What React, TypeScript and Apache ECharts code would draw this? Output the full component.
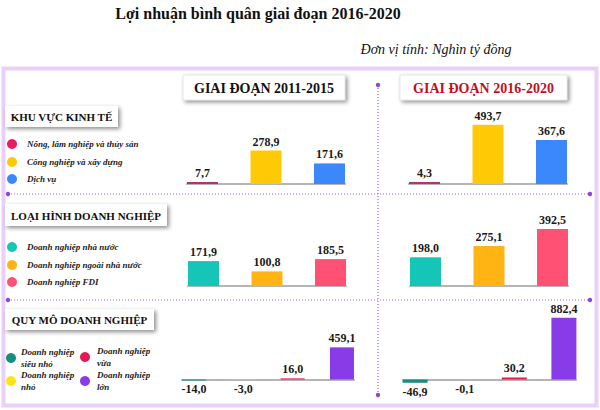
import React, { useEffect, useRef } from "react";
import * as echarts from "echarts";

const TITLE = "Lợi nhuận bình quân giai đoạn 2016-2020";
const UNIT = "Đơn vị tính: Nghìn tỷ đồng";
const PERIODS = ["GIAI ĐOẠN 2011-2015", "GIAI ĐOẠN 2016-2020"];
const SECTIONS = ["KHU VỰC KINH TẾ", "LOẠI HÌNH DOANH NGHIỆP", "QUY MÔ DOANH NGHIỆP"];

const sectorCats = ["Nông, lâm nghiệp và thủy sản", "Công nghiệp và xây dựng", "Dịch vụ"];
const sector2011 = [7.7, 278.9, 171.6];
const sector2016 = [4.3, 493.7, 367.6];
const sectorColors = ["#ec1a63", "#ffc905", "#3b88fd"];
const sectorBarColors = ["#b8306f", "#ffc905", "#3b88fd"];

const typeCats = ["Doanh nghiệp nhà nước", "Doanh nghiệp ngoài nhà nước", "Doanh nghiệp FDI"];
const type2011 = [171.9, 100.8, 185.5];
const type2016 = [198.0, 275.1, 392.5];
const typeColors = ["#15c6b8", "#ffb414", "#ff5173"];

const sizeCats = ["Doanh nghiệp\nsiêu nhỏ", "Doanh nghiệp\nnhỏ", "Doanh nghiệp\nvừa", "Doanh nghiệp\nlớn"];
const size2011 = [-14.0, -3.0, 16.0, 459.1];
const size2016 = [-46.9, -0.1, 30.2, 882.4];
const sizeColors = ["#168d7f", "#ffe31a", "#e6184f", "#8a3be8"];

const SERIF = "Liberation Serif";
const fmt = (v: number) => v.toFixed(1).replace(".", ",");

type Panel = {
  left: number; top: number; width: number; height: number;
  min: number; max: number; values: number[]; colors: string[];
  barWidth: number; minH: number;
};

const panels: Panel[] = [
  { left: 187, top: 112, width: 158, height: 72, min: 0, max: 600, values: sector2011, colors: sectorBarColors, barWidth: 31, minH: 2 },
  { left: 409, top: 112, width: 158, height: 72, min: 0, max: 600, values: sector2016, colors: sectorBarColors, barWidth: 31, minH: 2 },
  { left: 188, top: 228, width: 158, height: 58, min: 0, max: 400, values: type2011, colors: typeColors, barWidth: 31, minH: 0 },
  { left: 410, top: 228, width: 158, height: 58, min: 0, max: 400, values: type2016, colors: typeColors, barWidth: 31, minH: 0 },
  { left: 182, top: 309.5, width: 172, height: 77, min: -100, max: 1000, values: size2011, colors: sizeColors, barWidth: 24, minH: 0 },
  { left: 403, top: 309.5, width: 173, height: 77, min: -100, max: 1000, values: size2016, colors: sizeColors, barWidth: 25, minH: 0 },
];

function txt(x: number, y: number, text: string, o: any) {
  return {
    type: "text", x, y,
    style: {
      text, fill: o.fill || "#111", fontFamily: SERIF, fontSize: o.size,
      fontWeight: o.weight || "normal", fontStyle: o.style || "normal",
      textAlign: o.align || "center", textVerticalAlign: "middle",
      lineHeight: o.lineHeight,
    },
  };
}

function buildOption() {
  const grid = panels.map((p) => ({
    left: p.left, top: p.top, width: p.width, height: p.height,
    containLabel: false, outerBoundsMode: "none",
  }));
  const xAxis = panels.map((p, i) => ({
    type: "value", gridIndex: i, min: 0.756, max: p.values.length + 0.244,
    axisLine: { show: true, lineStyle: { color: "#b5b5b5", width: 2 } },
    axisTick: { show: false }, axisLabel: { show: false }, splitLine: { show: false },
  }));
  const yAxis = panels.map((p, i) => ({
    type: "value", gridIndex: i, min: p.min, max: p.max, show: false,
    splitLine: { show: false },
  }));
  const series = panels.map((p, i) => ({
    type: "bar", xAxisIndex: i, yAxisIndex: i, barWidth: p.barWidth,
    barMinHeight: p.minH, z: 3,
    data: p.values.map((v, k) => ({
      value: [k + 1, v],
      itemStyle: { color: p.colors[k] },
      label: { position: v < 0 ? "bottom" : "top" },
    })),
    label: {
      show: true, distance: 3,
      formatter: (d: any) => fmt(d.value[1]),
      fontFamily: SERIF, fontWeight: "bold", fontSize: 12, color: "#1a1a1a",
    },
  }));

  const g: any[] = [];
  const purple = "#9a62dc";
  g.push(txt(258, 13, TITLE, { size: 16, weight: "bold" }));
  g.push(txt(436, 49, UNIT, { size: 14, style: "italic" }));
  g.push({ type: "rect", shape: { x: 3.5, y: 68.5, width: 593, height: 337 }, style: { fill: "none", stroke: "#ead0f8", lineWidth: 4 } });
  g.push({ type: "line", shape: { x1: 378, y1: 85, x2: 378, y2: 395 }, style: { stroke: purple, lineWidth: 1.2, lineDash: [1, 2] } });
  g.push({ type: "line", shape: { x1: 8, y1: 194, x2: 590, y2: 194 }, style: { stroke: purple, lineWidth: 1.2, lineDash: [1, 2] } });
  g.push({ type: "line", shape: { x1: 8, y1: 300, x2: 590, y2: 300 }, style: { stroke: purple, lineWidth: 1.2, lineDash: [1, 2] } });
  [[378, 85], [378, 395], [8, 194], [590, 194], [8, 300], [590, 300]].forEach(([cx, cy]) =>
    g.push({ type: "circle", shape: { cx, cy, r: 2.2 }, style: { fill: "#8a48d8" } })
  );
  const shadow = { shadowBlur: 4, shadowColor: "rgba(0,0,0,0.45)", shadowOffsetX: 2, shadowOffsetY: 2 };
  const heads = [
    { x: 183, w: 162, color: "#111" },
    { x: 400, w: 167, color: "#c0101e" },
  ];
  heads.forEach((h, i) => {
    g.push({ type: "rect", shape: { x: h.x, y: 75, width: h.w, height: 25 }, style: { fill: "#fff", stroke: "#d8d8d8", lineWidth: 0.6, ...shadow } });
    g.push(txt(h.x + h.w / 2, 88, PERIODS[i], { size: 14, weight: "bold", fill: h.color }));
  });
  const secBoxes = [
    { y: 106, w: 113, h: 21 },
    { y: 204, w: 162, h: 22 },
    { y: 309, w: 149, h: 21 },
  ];
  secBoxes.forEach((b, i) => {
    g.push({ type: "rect", shape: { x: 5, y: b.y, width: b.w, height: b.h }, style: { fill: "#fff", ...shadow } });
    g.push(txt(5 + b.w / 2, b.y + b.h / 2 + 0.5, SECTIONS[i], { size: 11, weight: "bold" }));
  });
  const addLeg = (cx: number, cy: number, color: string, text: string, tx: number) => {
    g.push({ type: "circle", shape: { cx, cy, r: 5 }, style: { fill: color } });
    g.push(txt(tx, cy, text, { size: 9, weight: "bold", style: "italic", align: "left", fill: "#222", lineHeight: 12 }));
  };
  const ys1 = [144, 162, 179];
  sectorCats.forEach((c, i) => addLeg(12, ys1[i], sectorColors[i], c, 27));
  const ys2 = [247, 265, 282];
  typeCats.forEach((c, i) => addLeg(12, ys2[i], typeColors[i], c, 27));
  const pos3 = [[11, 358, 21], [11, 381, 21], [85, 357, 97], [85, 381, 97]];
  sizeCats.forEach((c, i) => addLeg(pos3[i][0], pos3[i][1], sizeColors[i], c, pos3[i][2]));

  return {
    animation: false,
    backgroundColor: "#fff",
    grid, xAxis, yAxis, series,
    graphic: { elements: g },
  };
}

export default function App() {
  const ref = useRef<HTMLDivElement>(null);
  useEffect(() => {
    document.body.style.margin = "0";
    const chart = echarts.init(ref.current!, null, { renderer: "svg" });
    chart.setOption(buildOption() as any);
    return () => chart.dispose();
  }, []);
  return <div ref={ref} style={{ width: 600, height: 410 }} />;
}
